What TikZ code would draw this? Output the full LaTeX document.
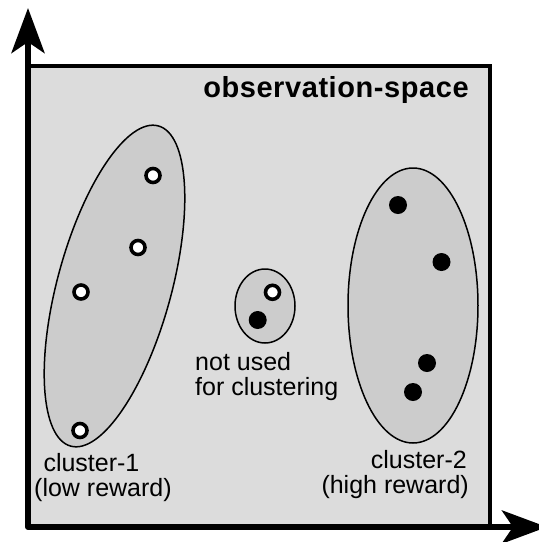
\documentclass[tikz,border=0pt]{standalone}
\usepackage{fontspec}
\setmainfont{Liberation Sans}
\usetikzlibrary{arrows.meta,shapes.geometric}

\definecolor{spacegray}{RGB}{220,220,220}
\definecolor{clustergray}{RGB}{204,204,204}

\begin{document}
\begin{tikzpicture}[
    x=1pt, y=-1pt,
    space/.style={fill=spacegray, draw=none},
    frameline/.style={line width=3.5pt, draw=black},
    axis/.style={line width=6pt, draw=black, line join=round, {Stealth[length=45pt, width=33pt, inset=11pt]}-{Stealth[length=45pt, width=33pt, inset=11pt]}},
    cluster/.style={ellipse, draw=black, fill=clustergray, line width=1.5pt, inner sep=0pt},
    lowpt/.style={circle, draw=black, fill=white, line width=3.6pt, minimum size=14pt, inner sep=0pt},
    highpt/.style={circle, fill=black, minimum size=18pt, inner sep=0pt},
    lbl/.style={font=\fontsize{25}{25}\selectfont, inner sep=0pt},
    titlelbl/.style={font=\fontsize{29}{30}\selectfont\bfseries\addfontfeature{LetterSpace=2}, inner sep=0pt}
]
    \clip (0,0) rectangle (539,542);
    \useasboundingbox (0,0) rectangle (539,542);

    % Observation space
    \fill[space] (28,66) rectangle (490,527);
    \draw[frameline] (28,66) -- (490,66) -- (490,527);
    \coordinate (origin) at (28,527);
    \coordinate (ytip) at (28,8);
    \coordinate (xtip) at (547,527);
    \draw[axis] (ytip) -- (origin) -- (xtip);
    \node[titlelbl, anchor=base east] (title) at (469,97) {observation-space};

    % Clusters
    \node[cluster, minimum width=114pt, minimum height=332pt, rotate=-15.3] (c1) at (114.5,286) {};
    \node[cluster, minimum width=130pt, minimum height=275pt] (c2) at (413,305.5) {};
    \node[cluster, minimum width=60pt, minimum height=74pt] (c0) at (265,306) {};

    % Observations
    \foreach \nm/\px/\py in {l1/153/175.5, l2/138/247.5, l3/81/292, l4/80/430.5, l5/272.5/292.3}
        \node[lowpt] (\nm) at (\px,\py) {};
    \foreach \nm/\px/\py in {h1/398/205, h2/441.5/262, h3/427/363, h4/413/392, h5/257.7/320}
        \node[highpt] (\nm) at (\px,\py) {};

    % Labels
    \node[lbl, anchor=base west] (c1a) at (43.3,471.7) {cluster-1};
    \node[lbl, anchor=base west] (c1b) at (34,496.7) {(low reward)};
    \node[lbl, anchor=base west] (c0a) at (195,370) {not used};
    \node[lbl, anchor=base west] (c0b) at (195,395) {for clustering};
    \node[lbl, anchor=base east] (c2a) at (467,468.3) {cluster-2};
    \node[lbl, anchor=base east] (c2b) at (469,493.3) {(high reward)};

\end{tikzpicture}
\end{document}
